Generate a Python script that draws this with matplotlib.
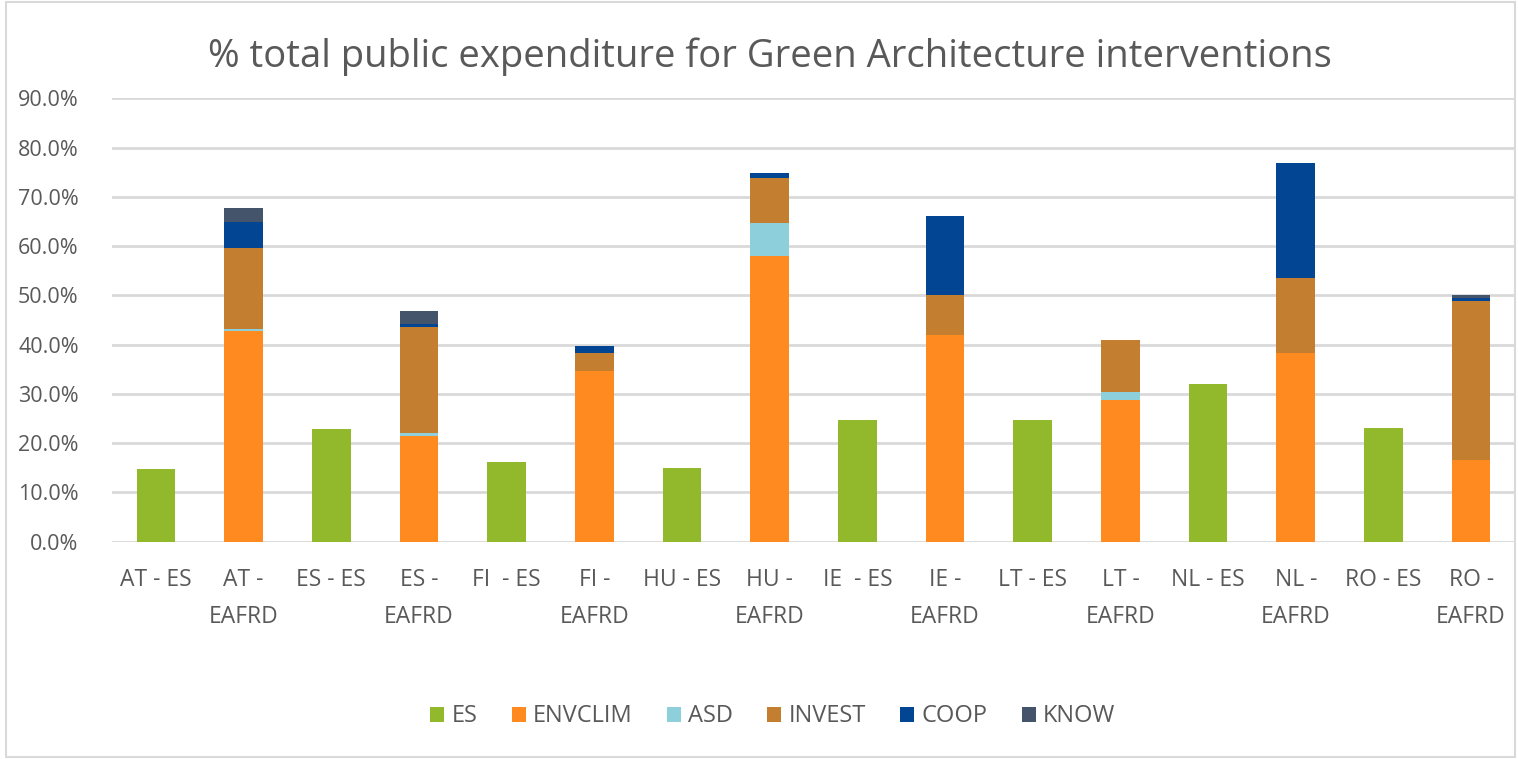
import numpy as np
import matplotlib
matplotlib.use("Agg")
from matplotlib import pyplot as plt
from matplotlib.patches import Rectangle

plt.rcParams['font.family'] = ['Open Sans', 'DejaVu Sans']

# Categories (country - fund)
categories = ['AT - ES', 'AT -\nEAFRD', 'ES - ES', 'ES -\nEAFRD', 'FI  - ES', 'FI -\nEAFRD',
              'HU - ES', 'HU -\nEAFRD', 'IE  - ES', 'IE -\nEAFRD', 'LT - ES', 'LT -\nEAFRD',
              'NL - ES', 'NL -\nEAFRD', 'RO - ES', 'RO -\nEAFRD']

# Share of total public expenditure (%)
es = [14.7, 0, 22.8, 0, 16.2, 0, 14.9, 0, 24.7, 0, 24.7, 0, 32.1, 0, 23.1, 0]
envclim = [0, 42.8, 0, 21.5, 0, 34.7, 0, 58.0, 0, 41.9, 0, 28.7, 0, 38.2, 0, 16.6]
asd = [0, 0.35, 0, 0.6, 0, 0, 0, 6.6, 0, 0, 0, 1.6, 0, 0, 0, 0]
invest = [0, 16.4, 0, 21.4, 0, 3.5, 0, 9.3, 0, 8.1, 0, 10.6, 0, 15.4, 0, 32.2]
coop = [0, 5.4, 0, 0.6, 0, 1.5, 0, 1.0, 0, 16.1, 0, 0, 0, 23.2, 0, 0.6]
know = [0, 2.7, 0, 2.8, 0, 0, 0, 0, 0, 0, 0, 0, 0, 0, 0, 0.6]

series = [('ES', es, '#92B92B'),
          ('ENVCLIM', envclim, '#FF8A1F'),
          ('ASD', asd, '#8DD0DC'),
          ('INVEST', invest, '#C47E30'),
          ('COOP', coop, '#024593'),
          ('KNOW', know, '#44546A')]

grey = '#595959'

fig = plt.figure(figsize=(15.18, 7.59), dpi=100)
ax = fig.add_axes([0.0738, 0.2863, 0.9242, 0.5842])

x = np.arange(len(categories))
bottom = np.zeros(len(categories))
for name, vals, col in series:
    vals = np.array(vals, dtype=float)
    ax.bar(x, vals, width=0.44, bottom=bottom, color=col, label=name, zorder=3)
    bottom += vals

ax.set_xlim(-0.5, len(categories) - 0.5)
ax.set_ylim(0, 90)
ax.set_yticks(np.arange(0, 91, 10))
ax.set_yticklabels([f'{v:.1f}%' for v in np.arange(0, 91, 10)], fontsize=15.5)
ax.set_xticks(x)
ax.set_xticklabels(categories, linespacing=1.7, va='top', fontsize=16.5)
ax.tick_params(axis='both', length=0, labelcolor=grey)
ax.tick_params(axis='y', pad=24)
ax.tick_params(axis='x', pad=19)
ax.grid(axis='y', color='#D9D9D9', linewidth=2, zorder=0)
for s in ax.spines.values():
    s.set_visible(False)

fig.text(0.507, 0.9117, '% total public expenditure for Green Architecture interventions',
         ha='center', va='baseline', fontsize=27.5, color=grey)

leg = fig.legend(loc='center', bbox_to_anchor=(0.509, 0.056), ncol=6, frameon=False,
                 fontsize=17, handlelength=0.6, handleheight=0.6, handletextpad=0.3,
                 columnspacing=1.45)
for t in leg.get_texts():
    t.set_color(grey)

# chart border
fig.patches.append(Rectangle((0.004, 0.003), 0.994, 0.994, transform=fig.transFigure,
                             fill=False, edgecolor='#D9D9D9', linewidth=1.5))

fig.savefig('out.png', dpi=100)
